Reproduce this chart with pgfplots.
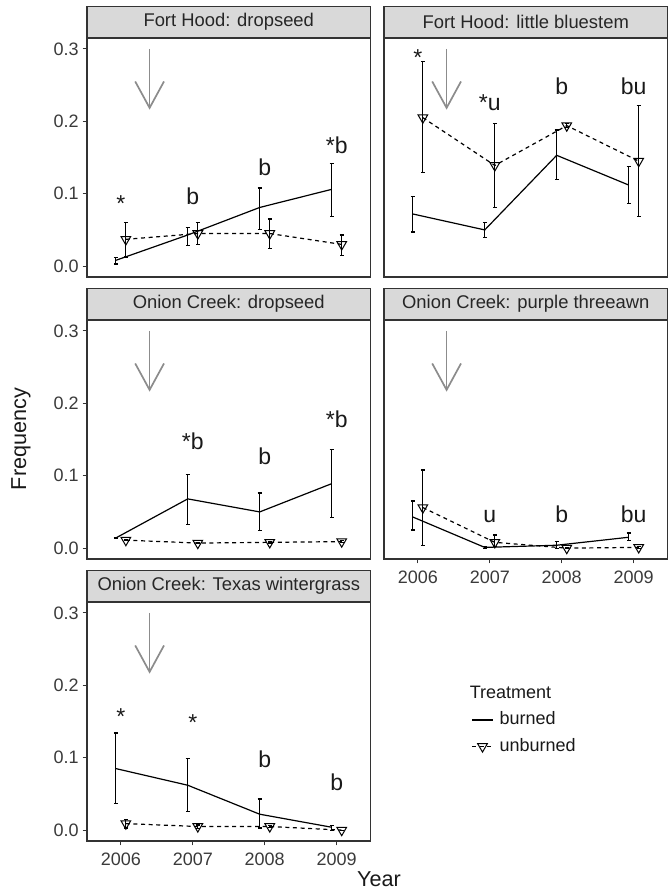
\documentclass[border=0pt]{standalone}
\usepackage{pgfplots}
\pgfplotsset{compat=1.18}
\usepackage{pgfplotstable}
\usepackage{fontspec}
\setmainfont{Liberation Sans}

\definecolor{stripfill}{HTML}{D9D9D9}
\definecolor{frame}{HTML}{333333}
\definecolor{ticktext}{HTML}{3A3A3A}
\definecolor{arrowgray}{HTML}{8C8C8C}

% yr = year, m = mean frequency, lo/hi = interval ends
% Fort Hood: dropseed
\pgfplotstableread{
yr   m      lo     hi
2006 0.008  0.003  0.012
2007 0.043  0.028  0.053
2008 0.081  0.051  0.108
2009 0.106  0.069  0.142
}\fhdB
\pgfplotstableread{
yr   m      lo     hi
2006 0.037  0.0125 0.060
2007 0.045  0.030  0.060
2008 0.045  0.024  0.065
2009 0.030  0.015  0.043
}\fhdU
% Fort Hood: little bluestem
\pgfplotstableread{
yr   m      lo     hi
2006 0.072  0.047  0.096
2007 0.050  0.040  0.060
2008 0.153  0.120  0.188
2009 0.112  0.086  0.138
}\fhlB
\pgfplotstableread{
yr   m      lo     hi
2006 0.205  0.129  0.282
2007 0.139  0.081  0.197
2008 0.194  0.191  0.197
2009 0.145  0.068  0.222
}\fhlU
% Onion Creek: dropseed
\pgfplotstableread{
yr   m      lo     hi
2006 0.014  0.014  0.014
2007 0.068  0.033  0.102
2008 0.050  0.0245 0.076
2009 0.089  0.042  0.136
}\ocdB
\pgfplotstableread{
yr   m      lo     hi
2006 0.011  0.010  0.012
2007 0.007  0.006  0.008
2008 0.008  0.007  0.009
2009 0.009  0.008  0.010
}\ocdU
% Onion Creek: purple threeawn
\pgfplotstableread{
yr   m      lo     hi
2006 0.043  0.025  0.065
2007 0.001  0.000  0.002
2008 0.004  0.000  0.009
2009 0.015  0.011  0.021
}\ocpB
\pgfplotstableread{
yr   m      lo     hi
2006 0.056  0.004  0.108
2007 0.008  0.002  0.018
2008 0.000  0.000  0.001
2009 0.001  0.000  0.002
}\ocpU
% Onion Creek: Texas wintergrass
\pgfplotstableread{
yr   m      lo     hi
2006 0.085  0.037  0.134
2007 0.062  0.0255 0.099
2008 0.022  0.003  0.043
2009 0.004  0.000  0.006
}\octB
\pgfplotstableread{
yr   m      lo     hi
2006 0.009  0.003  0.015
2007 0.005  0.002  0.007
2008 0.005  0.004  0.006
2009 0.000  0.000  0.000
}\octU

\pgfplotsset{
  panel/.style={
    scale only axis, width=141.75pt, height=119.5pt, anchor=south west,
    xmin=2005.53, xmax=2009.47, ymin=-0.015, ymax=0.315,
    axis line style={frame, line width=0.6pt},
    tick style={frame, line width=0.5pt},
    tick align=outside, major tick length=2.2pt,
    xtick={2006,2007,2008,2009}, xticklabels={2006,2007,2008,2009},
    ytick={0,0.1,0.2,0.3}, yticklabels={0.0,0.1,0.2,0.3},
    xtick pos=left, ytick pos=left,
    ticklabel style={font=\fontsize{9}{10}\selectfont, text=ticktext},
    yticklabel style={xshift=1.5pt},
    clip=false,
    every axis title shift=0pt,
    title style={draw=frame, fill=stripfill, line width=0.6pt,
      minimum width=141.75pt, minimum height=15.5pt, inner sep=0pt,
      anchor=south, at={(0.5,1)}, yshift=0pt,
      font=\fontsize{9.2}{11}\selectfont, text=black!85},
    legend image code/.code={\draw[#1, mark=none] (0pt,0pt) -- (10.5pt,0pt);
      \draw[#1] plot coordinates {(5.25pt,0pt)};},
  },
  burned/.style={black, line width=0.6pt, mark=none,
    error bars/.cd, y dir=both, y explicit,
    error bar style={line width=0.6pt, solid},
    error mark options={rotate=90, mark size=1pt, line width=0.6pt}},
  unburned/.style={black, line width=0.6pt, dash pattern=on 2pt off 1.8pt,
    mark=triangle, mark size=2.8pt,
    mark options={solid, rotate=180, line width=0.5pt},
    error bars/.cd, y dir=both, y explicit,
    error bar style={line width=0.6pt, solid},
    error mark options={rotate=90, mark size=1pt, line width=0.6pt, solid}},
}

\newcommand{\ann}[3]{\node[anchor=base, inner sep=0pt,
  font=\fontsize{11.5}{12}\selectfont, text=black!90] at (axis cs:#1,#2) {#3};}
\newcommand{\fire}{%
  \draw[arrowgray, line width=0.85pt] (axis cs:2006.4,0.3) -- (axis cs:2006.4,0.2185);
  \draw[arrowgray, line width=0.85pt] (axis cs:2006.2,0.255) -- (axis cs:2006.4,0.2185) -- (axis cs:2006.6,0.255);}

\begin{document}
\begin{tikzpicture}
\path[use as bounding box] (0,0) rectangle (334pt,444pt);

% Fort Hood: dropseed
\begin{axis}[panel, at={(43.5pt,305.5pt)}, xtick=\empty, title={Fort Hood: dropseed}]
\addplot[burned] table[x expr=\thisrow{yr}-0.07, y=m,
  y error plus expr=\thisrow{hi}-\thisrow{m}, y error minus expr=\thisrow{m}-\thisrow{lo}] {\fhdB};
\addplot[unburned] table[x expr=\thisrow{yr}+0.07, y=m,
  y error plus expr=\thisrow{hi}-\thisrow{m}, y error minus expr=\thisrow{m}-\thisrow{lo}] {\fhdU};
\fire
\ann{2006}{0.076}{*}
\ann{2007}{0.0855}{b}
\ann{2008}{0.125}{b}
\ann{2009}{0.156}{*b}
\end{axis}

% Fort Hood: little bluestem
\begin{axis}[panel, at={(192pt,305.5pt)}, xtick=\empty, ytick=\empty, title={Fort Hood: little bluestem}]
\addplot[burned] table[x expr=\thisrow{yr}-0.07, y=m,
  y error plus expr=\thisrow{hi}-\thisrow{m}, y error minus expr=\thisrow{m}-\thisrow{lo}] {\fhlB};
\addplot[unburned] table[x expr=\thisrow{yr}+0.07, y=m,
  y error plus expr=\thisrow{hi}-\thisrow{m}, y error minus expr=\thisrow{m}-\thisrow{lo}] {\fhlU};
\fire
\ann{2006}{0.277}{*}
\ann{2007}{0.215}{*u}
\ann{2008}{0.237}{b}
\ann{2009}{0.237}{bu}
\end{axis}

% Onion Creek: dropseed
\begin{axis}[panel, at={(43.5pt,164.5pt)}, xtick=\empty, title={Onion Creek: dropseed}]
\addplot[burned] table[x expr=\thisrow{yr}-0.07, y=m,
  y error plus expr=\thisrow{hi}-\thisrow{m}, y error minus expr=\thisrow{m}-\thisrow{lo}] {\ocdB};
\addplot[unburned] table[x expr=\thisrow{yr}+0.07, y=m,
  y error plus expr=\thisrow{hi}-\thisrow{m}, y error minus expr=\thisrow{m}-\thisrow{lo}] {\ocdU};
\fire
\ann{2007}{0.1356}{*b}
\ann{2008}{0.1157}{b}
\ann{2009}{0.166}{*b}
\end{axis}

% Onion Creek: purple threeawn
\begin{axis}[panel, at={(192pt,164.5pt)}, ytick=\empty, title={Onion Creek: purple threeawn}]
\addplot[burned] table[x expr=\thisrow{yr}-0.07, y=m,
  y error plus expr=\thisrow{hi}-\thisrow{m}, y error minus expr=\thisrow{m}-\thisrow{lo}] {\ocpB};
\addplot[unburned] table[x expr=\thisrow{yr}+0.07, y=m,
  y error plus expr=\thisrow{hi}-\thisrow{m}, y error minus expr=\thisrow{m}-\thisrow{lo}] {\ocpU};
\fire
\ann{2007}{0.036}{u}
\ann{2008}{0.035}{b}
\ann{2009}{0.035}{bu}
\end{axis}

% Onion Creek: Texas wintergrass
\begin{axis}[panel, at={(43.5pt,23.5pt)}, title={Onion Creek: Texas wintergrass},
  legend style={at={(1.3545,0.546)}, anchor=north west, draw=none, fill=none,
    inner sep=0pt, row sep=4.3pt, font=\fontsize{9}{10}\selectfont,
    nodes={inner sep=0pt, text height=7pt, text depth=2pt, text=black!90},
    /tikz/every odd column/.append style={column sep=3pt}},
  legend cell align=left]
\addplot[burned] table[x expr=\thisrow{yr}-0.07, y=m,
  y error plus expr=\thisrow{hi}-\thisrow{m}, y error minus expr=\thisrow{m}-\thisrow{lo}] {\octB};
\addlegendentry{burned}
\addplot[unburned] table[x expr=\thisrow{yr}+0.07, y=m,
  y error plus expr=\thisrow{hi}-\thisrow{m}, y error minus expr=\thisrow{m}-\thisrow{lo}] {\octU};
\addlegendentry{unburned}
\fire
\ann{2006}{0.1465}{*}
\ann{2007}{0.138}{*}
\ann{2008}{0.0858}{b}
\ann{2009}{0.0547}{b}
\end{axis}

\node[anchor=west, inner sep=0pt, font=\fontsize{9}{10}\selectfont, text=black!90] at (234.7pt,98pt) {Treatment};
\node[rotate=90, inner sep=0pt, font=\fontsize{10.8}{12}\selectfont, text=black!90] at (10.5pt,224.5pt) {Frequency};
\node[inner sep=0pt, font=\fontsize{10.8}{12}\selectfont, text=black!90] at (189.5pt,4.5pt) {Year};
\end{tikzpicture}
\end{document}
